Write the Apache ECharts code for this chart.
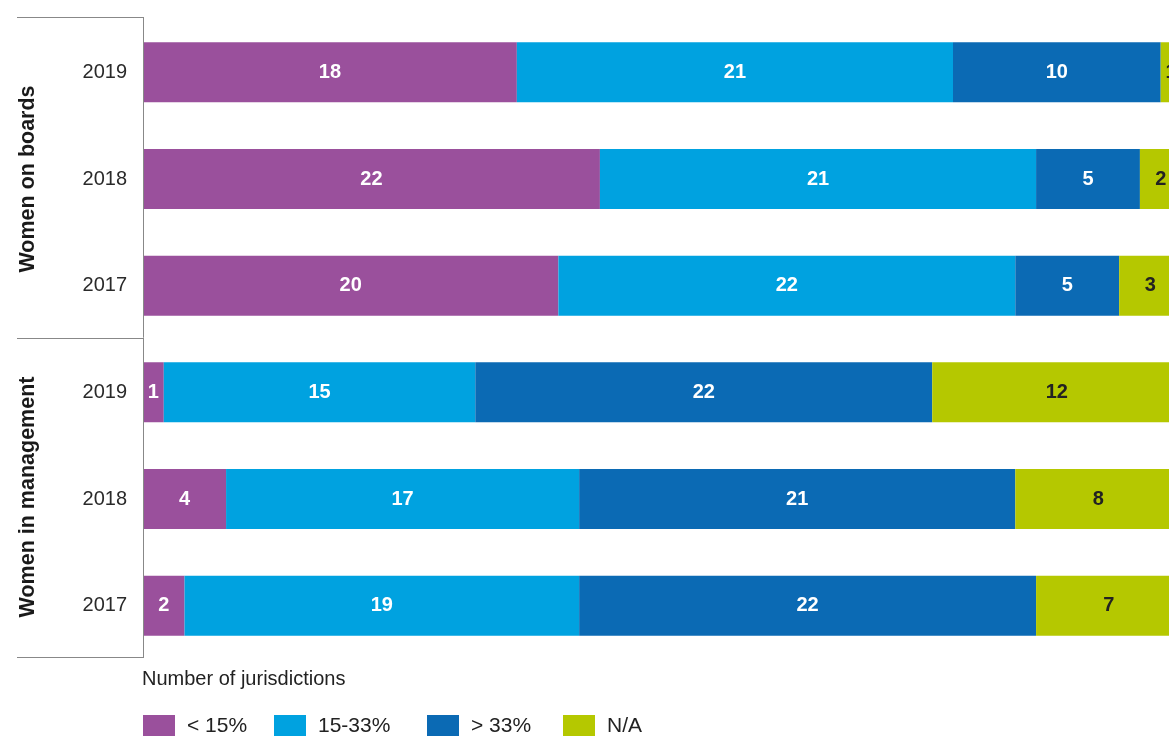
<!DOCTYPE html>
<html>
<head>
<meta charset="utf-8">
<script src="https://cdn.jsdelivr.net/npm/echarts@6/dist/echarts.min.js"></script>
<style>
html,body{margin:0;padding:0;background:#fff;}
#chart{width:1169px;height:736px;}
</style>
</head>
<body>
<div id="chart"></div>
<script>
const groups = ["Women on boards", "Women in management"];
const years = ["2019", "2018", "2017"];
const seriesNames = ["< 15%", "15-33%", "> 33%", "N/A"];
// rows: boards 2019, 2018, 2017, management 2019, 2018, 2017
const below15 = [18, 22, 20, 1, 4, 2];
const from15to33 = [21, 21, 22, 15, 17, 19];
const above33 = [10, 5, 5, 22, 21, 22];
const notAvailable = [1, 2, 3, 12, 8, 7];
// the source picture is cropped at the right, a little before the 50 total
const axisMax = 49.4;

const colors = ["#9a509c", "#00a2e0", "#0b6ab4", "#b5c800"];
const FONT = "Liberation Sans, Arial, sans-serif";

const categories = [];
groups.forEach((g, gi) => years.forEach(y => categories.push(gi + "|" + y)));

const values = [below15, from15to33, above33, notAvailable];

const series = seriesNames.map((name, i) => ({
  name: name,
  type: "bar",
  stack: "total",
  barWidth: 60,
  clip: false,
  data: values[i],
  itemStyle: { color: colors[i] },
  label: {
    show: true,
    position: "inside",
    color: i === 3 ? "#222" : "#fff",
    fontWeight: "bold",
    fontSize: 20,
    fontFamily: FONT
  },
  emphasis: { disabled: true }
}));

const legendLefts = [143, 274, 427, 563];
const legends = seriesNames.map((name, i) => ({
  data: [name],
  left: legendLefts[i],
  top: 715,
  padding: 0,
  itemWidth: 32,
  itemHeight: 22,
  icon: "rect",
  selectedMode: false,
  textStyle: { fontSize: 21, color: "#222", fontFamily: FONT, padding: [0, 0, 0, 7] }
}));

const chart = echarts.init(document.getElementById("chart"));
chart.setOption({
  animation: false,
  color: colors,
  title: {
    text: "Number of jurisdictions",
    left: 142,
    top: 669,
    padding: 0,
    textStyle: { fontSize: 20, fontWeight: "normal", color: "#222", fontFamily: FONT }
  },
  legend: legends,
  grid: { left: 143, right: 0, top: 19, bottom: 77, containLabel: false },
  xAxis: {
    type: "value",
    min: 0,
    max: axisMax,
    show: false
  },
  yAxis: {
    type: "category",
    inverse: true,
    data: categories,
    axisLine: { show: false },
    axisTick: { show: false },
    axisLabel: {
      margin: 16,
      fontSize: 20,
      color: "#2a2a2a",
      fontFamily: FONT,
      formatter: v => v.split("|")[1]
    }
  },
  series: series,
  graphic: [
    { type: "line", shape: { x1: 143.5, y1: 17, x2: 143.5, y2: 658 }, style: { stroke: "#888", lineWidth: 1 }, z: 10 },
    { type: "line", shape: { x1: 17, y1: 17.5, x2: 143, y2: 17.5 }, style: { stroke: "#888", lineWidth: 1 } },
    { type: "line", shape: { x1: 17, y1: 338.5, x2: 143, y2: 338.5 }, style: { stroke: "#888", lineWidth: 1 } },
    { type: "line", shape: { x1: 17, y1: 657.5, x2: 143, y2: 657.5 }, style: { stroke: "#888", lineWidth: 1 } },
    { type: "text", x: 28, y: 179, rotation: Math.PI / 2,
      style: { text: groups[0], font: "bold 21.5px " + FONT, fill: "#1a1a1a", align: "center", verticalAlign: "middle" } },
    { type: "text", x: 28, y: 497, rotation: Math.PI / 2,
      style: { text: groups[1], font: "bold 21.5px " + FONT, fill: "#1a1a1a", align: "center", verticalAlign: "middle" } }
  ]
});
</script>
</body>
</html>
